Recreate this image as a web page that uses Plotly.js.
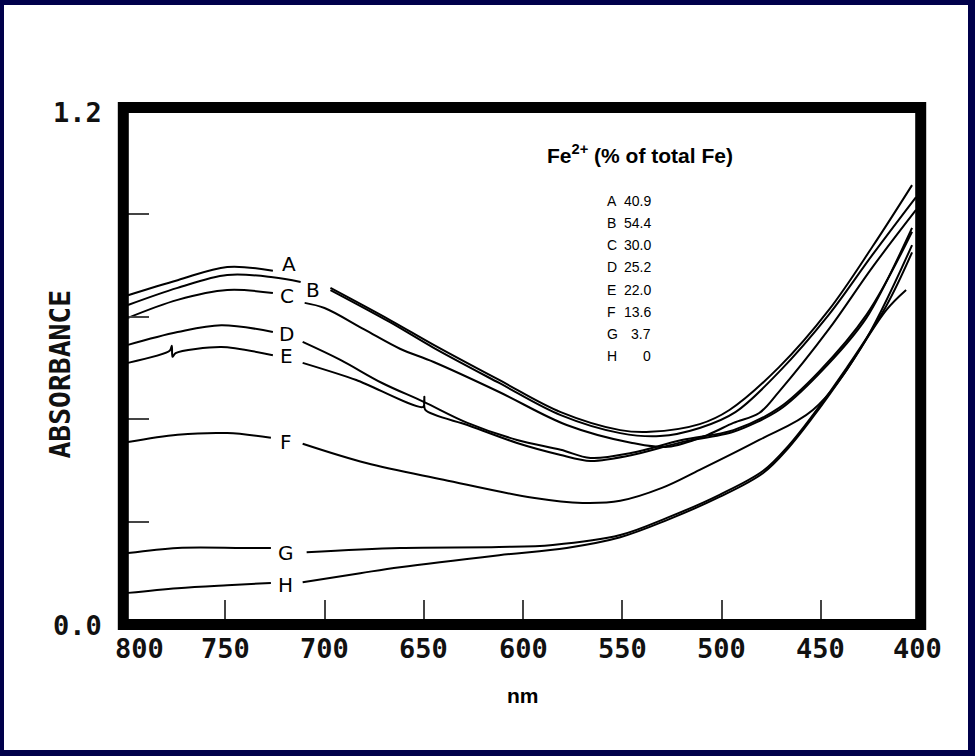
<!DOCTYPE html>
<html><head><meta charset="utf-8">
<script src="https://cdn.plot.ly/plotly-3.0.1.min.js"></script>
<style>
html,body{margin:0;padding:0;background:#00004b;width:975px;height:756px;overflow:hidden;}
#bg{position:absolute;left:4px;top:5px;width:964px;height:745px;background:#fff;}
#chart{position:absolute;left:0;top:0;width:975px;height:756px;}
</style></head><body><div id="bg"></div><div id="chart"></div>
<script>
// ---- data ----
const curveLabels = ['A','B','C','D','E','F','G','H'];
const fe2Percent = ['40.9','54.4','30.0','25.2','22.0','13.6','3.7','0'];
const xTickVals = [800,750,700,650,600,550,500,450,400];
const xTickText = ['800','750','700','650','600','550','500','450','400'];
const yTickVals = [0, 1.2];
const yTickText = ['0.0','1.2'];
const yMinorTicks = [0.24,0.48,0.72,0.96];

const nmA  = [799,774,749,726,null,697,667,645,612,581,551,536,511,496,471,446,424,404];
const absA = [0.770,0.805,0.836,0.827,null,0.787,0.712,0.654,0.572,0.497,0.455,0.451,0.469,0.502,0.602,0.735,0.883,1.027];

const nmB  = [799,774,749,726,712,null,697,667,645,612,581,551,531,511,493,471,446,424,402];
const absB = [0.747,0.787,0.817,0.812,0.801,null,0.782,0.707,0.647,0.565,0.490,0.448,0.441,0.460,0.497,0.591,0.724,0.864,0.999];

const nmC  = [799,774,749,726,null,710,700,680,662,645,612,578,545,527,507,494,481,471,446,424,402];
const absC = [0.717,0.759,0.782,0.775,null,0.752,0.740,0.690,0.645,0.614,0.544,0.467,0.425,0.416,0.444,0.472,0.495,0.545,0.690,0.835,0.969];

const nmD  = [799,774,752,726,null,711,692,671,650,628,603,581,566,545,520,494,471,451,427,404];
const absD = [0.654,0.684,0.700,0.684,null,0.661,0.619,0.565,0.521,0.472,0.432,0.409,0.390,0.402,0.432,0.455,0.507,0.591,0.724,0.918];

const nmE  = [799,778,776.9,776.6,775,752,726,null,711,684,650.3,649.7,649.2,628,603,581,566,545,520,494,471,451,427,404];
const absE = [0.612,0.640,0.652,0.626,0.635,0.649,0.630,null,0.612,0.572,0.509,0.533,0.502,0.467,0.425,0.397,0.383,0.397,0.427,0.451,0.502,0.586,0.717,0.927];

const nmF  = [799,774,749,727,null,711,679,640,595,570,551,530,511,481,454,430,404];
const absF = [0.427,0.444,0.448,0.437,null,0.423,0.378,0.339,0.297,0.285,0.290,0.320,0.362,0.432,0.502,0.645,0.887];

const nmG  = [799,774,741,727,null,709,662,612,585,551,527.5,501,479,466,454,437,417,404];
const absG = [0.168,0.180,0.180,0.180,null,0.170,0.180,0.182,0.187,0.210,0.250,0.304,0.360,0.420,0.490,0.600,0.745,0.870];

const nmH  = [799,774,749,727,null,711,682,662,612,578,551,527.5,501,479,466,454,437,417,407];
const absH = [0.075,0.086,0.093,0.098,null,0.100,0.121,0.135,0.163,0.180,0.205,0.245,0.299,0.355,0.415,0.485,0.595,0.735,0.782];

const labelNm  = [718.0,706.0,719.1,719.1,719.1,719.6,719.6,719.6];
const labelAbs = [0.842,0.782,0.767,0.679,0.627,0.428,0.167,0.093];

// ---- build ----
const series = [[nmA,absA],[nmB,absB],[nmC,absC],[nmD,absD],[nmE,absE],[nmF,absF],[nmG,absG],[nmH,absH]];
const traces = series.map((s,i)=>({
  x:s[0], y:s[1], type:'scatter', mode:'lines', name:curveLabels[i],
  connectgaps:false, hoverinfo:'skip',
  line:{color:'#000', width:2, shape:'spline', smoothing:(i===4?0.8:1.0)}
}));

const monoFont = {family:'DejaVu Sans Mono', size:27, color:'#111', weight:'bold'};
const ann = [];
xTickVals.forEach((v,i)=>{
  ann.push({x:v, xref:'x', y:0, yref:'paper', yshift:-23, text:xTickText[i], showarrow:false,
    xanchor:'center', yanchor:'middle', xshift:(i===0?13:(i===xTickVals.length-1?-3:0)), font:monoFont});
});
yTickVals.forEach((v,i)=>{
  ann.push({x:0, xref:'paper', xshift:-22, y:v, yref:'y', yshift:(i===1?-1:0), text:yTickText[i], showarrow:false,
    xanchor:'right', yanchor:'middle', font:monoFont});
});
ann.push({x:-0.0827, xref:'paper', y:0.488, yref:'paper', text:'ABSORBANCE', textangle:-90, showarrow:false,
  xanchor:'center', yanchor:'middle', font:{family:'DejaVu Sans Mono', size:28, color:'#111', weight:'bold'}});
ann.push({x:0.5003, xref:'paper', y:-0.1381, yref:'paper', text:'nm', showarrow:false,
  xanchor:'center', yanchor:'middle', font:{family:'Liberation Sans', size:21, color:'#000', weight:'bold'}});
ann.push({x:0.6472, xref:'paper', y:0.9173, yref:'paper', text:'Fe<sup>2+</sup> (% of total Fe)', showarrow:false,
  xanchor:'center', yanchor:'middle', font:{family:'Liberation Sans', size:21, color:'#000', weight:'bold'}});
curveLabels.forEach((c,i)=>{
  const py = 201 + 22.15*i;
  const yp = (625-py)/514;
  ann.push({x:0.6032, xref:'paper', y:yp, yref:'paper', text:c, showarrow:false, xanchor:'left', yanchor:'middle',
    font:{family:'Liberation Sans', size:14, color:'#000'}});
  ann.push({x:0.6635, xref:'paper', y:yp, yref:'paper', text:fe2Percent[i], showarrow:false, xanchor:'right', yanchor:'middle',
    font:{family:'Liberation Sans', size:14, color:'#000'}});
  ann.push({x:labelNm[i], xref:'x', y:labelAbs[i], yref:'y', text:c, showarrow:false, xanchor:'center', yanchor:'middle',
    font:{family:'DejaVu Sans', size:20, color:'#000'}});
});

const layout = {
  width:975, height:756,
  margin:{l:126, r:55, t:111, b:131},
  paper_bgcolor:'rgba(0,0,0,0)', plot_bgcolor:'rgba(0,0,0,0)',
  showlegend:false,
  xaxis:{range:[800,400], showgrid:false, zeroline:false, showline:false, ticks:'inside',
    tickvals:[750,700,650,600,550,500,450], ticklen:25, tickwidth:2, tickcolor:'#444', showticklabels:false, fixedrange:true},
  yaxis:{range:[0,1.2], showgrid:false, zeroline:false, showline:false, ticks:'inside',
    tickvals:yMinorTicks, ticklen:23, tickwidth:2, tickcolor:'#444', showticklabels:false, fixedrange:true},
  shapes:[{type:'rect', xref:'paper', yref:'paper', x0:-0.0034, x1:1.0009, y0:0.001, y1:1.0068,
    line:{color:'#000', width:11}, layer:'above'}],
  annotations:ann
};
Plotly.newPlot('chart', traces, layout, {staticPlot:true, displayModeBar:false});
</script></body></html>
